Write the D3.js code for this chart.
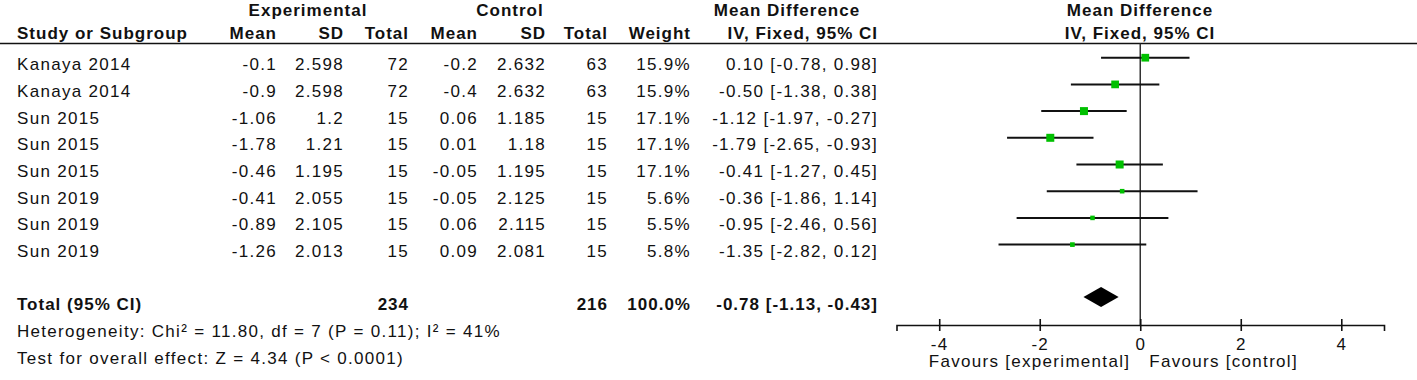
<!DOCTYPE html>
<html>
<head>
<meta charset="utf-8">
<script src="https://cdn.jsdelivr.net/npm/d3@7"></script>
<style>
  html, body { margin: 0; padding: 0; background: #fff; }
  svg text { font-family: "Liberation Sans", Arial, sans-serif; font-size: 17px; fill: #111; letter-spacing: 1.3px; }
  svg text.b { font-weight: bold; letter-spacing: 1px; }
</style>
</head>
<body>
<svg id="chart" width="1417" height="380"></svg>
<script>
// forest plot — mean difference, IV fixed
const studies = ["Kanaya 2014", "Kanaya 2014", "Sun 2015", "Sun 2015", "Sun 2015", "Sun 2019", "Sun 2019", "Sun 2019"];
const expMean = ["-0.1", "-0.9", "-1.06", "-1.78", "-0.46", "-0.41", "-0.89", "-1.26"];
const expSD = ["2.598", "2.598", "1.2", "1.21", "1.195", "2.055", "2.105", "2.013"];
const expN = [72, 72, 15, 15, 15, 15, 15, 15];
const ctlMean = ["-0.2", "-0.4", "0.06", "0.01", "-0.05", "-0.05", "0.06", "0.09"];
const ctlSD = ["2.632", "2.632", "1.185", "1.18", "1.195", "2.125", "2.115", "2.081"];
const ctlN = [63, 63, 15, 15, 15, 15, 15, 15];
const weights = [15.9, 15.9, 17.1, 17.1, 17.1, 5.6, 5.5, 5.8];
const md = [0.10, -0.50, -1.12, -1.79, -0.41, -0.36, -0.95, -1.35];
const ciLow = [-0.78, -1.38, -1.97, -2.65, -1.27, -1.86, -2.46, -2.82];
const ciHigh = [0.98, 0.38, -0.27, -0.93, 0.45, 1.14, 0.56, 0.12];

const total = { exp: 234, ctl: 216, weight: "100.0%", md: -0.78, lo: -1.13, hi: -0.43 };
const hetText = "Heterogeneity: Chi² = 11.80, df = 7 (P = 0.11); I² = 41%";
const testText = "Test for overall effect: Z = 4.34 (P < 0.0001)";
const tickVals = [-4, -2, 0, 2, 4];
const favours = ["Favours [experimental]", "Favours [control]"];

const svg = d3.select("#chart");
const fmt = v => v.toFixed(2); // plain hyphen minus like the original
const fmtCI = (m, l, h) => `${fmt(m)} [${fmt(l)}, ${fmt(h)}]`;

// layout
const rowY = d3.scaleLinear().domain([0, 1]).range([57.7, 84.4]); // marker centre per row
const textOff = 12.5;
const totalY = 297;
const axisY = 325;
const x = d3.scaleLinear().domain([-4.85, 4.85]).range([896.5, 1384]);
const side = d3.scaleSqrt().domain([0, 17.1]).range([0, 8]);

function txt(g, xp, yp, s, anchor, bold) {
  return g.append("text").attr("x", xp).attr("y", yp)
    .attr("text-anchor", anchor).attr("class", bold ? "b" : null).text(s);
}

// header
const hdr = svg.append("g");
txt(hdr, 308, 16, "Experimental", "middle", true);
txt(hdr, 510, 16, "Control", "middle", true);
txt(hdr, 787, 16, "Mean Difference", "middle", true);
txt(hdr, 1140, 16, "Mean Difference", "middle", true);
txt(hdr, 17, 39, "Study or Subgroup", "start", true);
const cols = [
  { x: 277, h: "Mean" }, { x: 344, h: "SD" }, { x: 409, h: "Total" },
  { x: 478, h: "Mean" }, { x: 546, h: "SD" }, { x: 608, h: "Total" },
  { x: 691, h: "Weight" }, { x: 878, h: "IV, Fixed, 95% CI" }
];
cols.forEach(c => txt(hdr, c.x, 39, c.h, "end", true));
txt(hdr, 1140, 39, "IV, Fixed, 95% CI", "middle", true);

svg.append("line").attr("x1", 0).attr("x2", 1417).attr("y1", 43.5).attr("y2", 43.5)
  .attr("stroke", "#111").attr("stroke-width", 1.6);

// table rows
const rows = studies.map((s, i) => ({
  i, s,
  cells: [expMean[i], expSD[i], expN[i], ctlMean[i], ctlSD[i], ctlN[i],
    weights[i].toFixed(1) + "%", fmtCI(md[i], ciLow[i], ciHigh[i])]
}));
const body = svg.append("g");
rows.forEach(r => {
  const yb = rowY(r.i) + textOff;
  txt(body, 17, yb, r.s, "start", false);
  r.cells.forEach((c, k) => txt(body, cols[k].x, yb, c, "end", false));
});

// total row
const ty = totalY + textOff;
txt(body, 17, ty, "Total (95% CI)", "start", true);
txt(body, cols[2].x, ty, total.exp, "end", true);
txt(body, cols[5].x, ty, total.ctl, "end", true);
txt(body, cols[6].x, ty, total.weight, "end", true);
txt(body, cols[7].x, ty, fmtCI(total.md, total.lo, total.hi), "end", true);
txt(body, 17, 337, hetText, "start", false);
txt(body, 17, 364, testText, "start", false);

// plot
const plot = svg.append("g");
plot.append("line").attr("x1", x(0)).attr("x2", x(0)).attr("y1", 43.5).attr("y2", axisY)
  .attr("stroke", "#333").attr("stroke-width", 1.5);

plot.selectAll("line.ci").data(rows).join("line").attr("class", "ci")
  .attr("x1", d => x(ciLow[d.i])).attr("x2", d => x(ciHigh[d.i]))
  .attr("y1", d => rowY(d.i)).attr("y2", d => rowY(d.i))
  .attr("stroke", "#111").attr("stroke-width", 2);

plot.selectAll("rect.pt").data(rows).join("rect").attr("class", "pt")
  .attr("x", d => x(md[d.i]) - side(weights[d.i]) / 2)
  .attr("y", d => rowY(d.i) - side(weights[d.i]) / 2)
  .attr("width", d => side(weights[d.i]))
  .attr("height", d => side(weights[d.i]))
  .attr("fill", "#00c000");

plot.append("path")
  .attr("d", `M${x(total.lo)},${totalY}L${x(total.md)},${totalY - 10}L${x(total.hi)},${totalY}L${x(total.md)},${totalY + 10}Z`)
  .attr("fill", "#000");

// axis
const axis = plot.append("g").attr("transform", `translate(0,${axisY})`)
  .call(d3.axisBottom(x).tickValues(tickVals).tickFormat(d => String(d)).tickSizeOuter(0).tickSize(6));
axis.select(".domain").attr("stroke", "#111").attr("stroke-width", 1.6);
axis.selectAll(".tick line").attr("y1", -6).attr("y2", 6).attr("stroke", "#111").attr("stroke-width", 1.6);
axis.selectAll(".tick text")
  .attr("y", 25).attr("dy", null)
  .style("font-family", "'Liberation Sans', Arial, sans-serif")
  .style("font-size", "17px").style("fill", "#111");
axis.attr("font-family", null).attr("font-size", null);

txt(plot, x(0) - 10, 367, favours[0], "end", false);
txt(plot, x(0) + 9, 367, favours[1], "start", false);
</script>
</body>
</html>
